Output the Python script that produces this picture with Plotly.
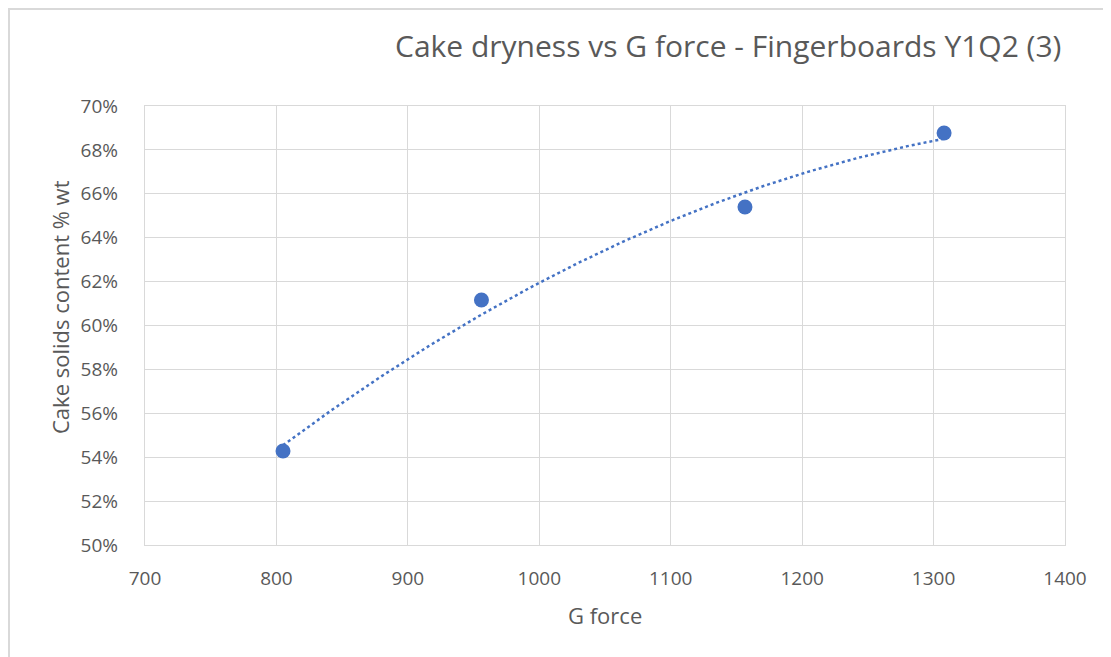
import numpy as np
import plotly.graph_objects as go

g_force = [805, 956, 1156.5, 1308]
solids = [0.5428, 0.6116, 0.654, 0.6877]

x_ticks = [700, 800, 900, 1000, 1100, 1200, 1300, 1400]
y_ticks = [0.50, 0.52, 0.54, 0.56, 0.58, 0.60, 0.62, 0.64, 0.66, 0.68, 0.70]

coef = np.polyfit(g_force, solids, 2)
xt = np.linspace(min(g_force), max(g_force), 200)
yt = np.polyval(coef, xt)

OFF = 8  # default body margin of the html page
W, H = 1111 - OFF, 657 - OFF
# plot area in page pixels
L, R, T, B = 145, 1065, 106, 545
pw, ph = R - L, B - T


def px(x):
    return (x - L) / pw


def py(y):
    return (B - y) / ph


blue = "#4472C4"
grid = "#d9d9d9"
txt = "#595959"
font = "Open Sans, Liberation Sans, sans-serif"

fig = go.Figure()
fig.add_trace(go.Scatter(x=xt, y=yt, mode="lines",
                         line=dict(color=blue, width=2.5, dash="dot"),
                         hoverinfo="skip", showlegend=False))
fig.add_trace(go.Scatter(x=g_force, y=solids, mode="markers",
                         marker=dict(color=blue, size=15),
                         showlegend=False))

fig.update_layout(
    width=W, height=H,
    margin=dict(l=L - OFF, r=(W + OFF) - R, t=T - OFF, b=(H + OFF) - B),
    paper_bgcolor="white", plot_bgcolor="white",
    font=dict(family=font, color=txt),
    xaxis=dict(range=[700, 1400], tickvals=x_ticks, ticktext=[str(v) for v in x_ticks],
               showgrid=True, gridcolor=grid, gridwidth=1.3, zeroline=False,
               showline=True, linecolor=grid, linewidth=1.3, mirror=True,
               ticks="", tickfont=dict(size=19, color=txt), ticklabelstandoff=16),
    yaxis=dict(range=[0.50, 0.70], tickvals=y_ticks,
               ticktext=[f"{round(v*100)}%" for v in y_ticks],
               showgrid=True, gridcolor=grid, gridwidth=1.3, zeroline=False,
               showline=True, linecolor=grid, linewidth=1.3, mirror=True,
               ticks="", tickfont=dict(size=19, color=txt), ticklabelstandoff=22),
    shapes=[dict(type="rect", xref="paper", yref="paper",
                 x0=px(OFF + 1), x1=px(1125), y0=py(670), y1=py(OFF + 1),
                 line=dict(color=grid, width=2), fillcolor="rgba(0,0,0,0)", layer="below")],
    annotations=[
        dict(text="Cake dryness vs G force - Fingerboards Y1Q2 (3)",
             xref="paper", yref="paper", x=px(1063), y=py(45),
             xanchor="right", yanchor="middle", showarrow=False,
             font=dict(size=30, color=txt, family=font)),
        dict(text="G force", xref="paper", yref="paper", x=px(605), y=py(615),
             xanchor="center", yanchor="middle", showarrow=False,
             font=dict(size=22, color=txt, family=font)),
        dict(text="Cake solids content % wt", xref="paper", yref="paper",
             x=px(60), y=py(307), textangle=-90,
             xanchor="center", yanchor="middle", showarrow=False,
             font=dict(size=22, color=txt, family=font)),
    ],
)

fig.write_html("out.html")
